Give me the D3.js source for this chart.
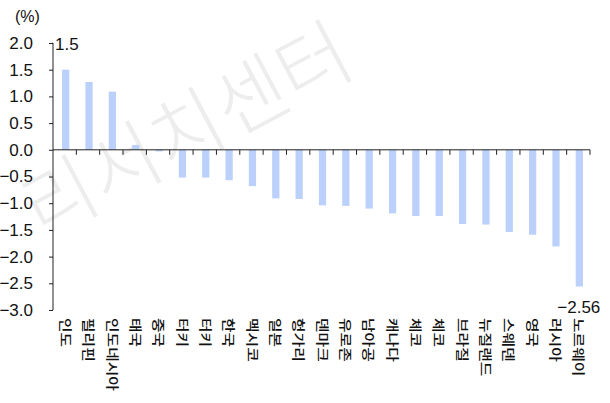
<!DOCTYPE html>
<html>
<head>
<meta charset="utf-8">
<script src="https://cdn.jsdelivr.net/npm/d3@7.9.0/dist/d3.min.js"></script>
<style>
  html, body { margin: 0; padding: 0; background: #fff; }
  svg { display: block; }
</style>
</head>
<body>
<div id="chart"></div>
<script>
// countries as printed in the source (duplicates kept as they appear)
const countries = ['인도', '필리핀', '인도네시아', '태국', '중국', '터키', '터키', '한국', '멕시코', '일본',
  '헝가리', '덴마크', '유로존', '남아공', '캐나다', '체코', '체코', '브라질', '뉴질랜드', '스웨덴',
  '영국', '러시아', '노르웨이'];
const values = [1.5, 1.27, 1.09, 0.09, -0.03, -0.52, -0.52, -0.57, -0.68, -0.91,
  -0.92, -1.04, -1.05, -1.10, -1.19, -1.24, -1.24, -1.39, -1.40, -1.54,
  -1.59, -1.81, -2.56];
const yTicks = [2.0, 1.5, 1.0, 0.5, 0.0, -0.5, -1.0, -1.5, -2.0, -2.5, -3.0];
const labelled = [0, 22]; // bars that carry a value label

const width = 610;
const height = 403;
const numFont = '"Liberation Sans", Arial, sans-serif';
const krFont = '"Noto Sans CJK KR", sans-serif';

const svg = d3.select('#chart')
  .append('svg')
  .attr('width', width)
  .attr('height', height);

// faint watermark
svg.append('text')
  .attr('transform', 'translate(184,125) rotate(-28)')
  .attr('text-anchor', 'middle')
  .attr('dominant-baseline', 'central')
  .attr('font-family', krFont)
  .attr('font-weight', 300)
  .attr('font-size', 78)
  .attr('fill', '#ededed')
  .text('리서치센터');

const x = d3.scaleBand()
  .domain(d3.range(countries.length))
  .range([53, 590])
  .padding(0);

const y = d3.scaleLinear().domain([-3, 2]).range([310, 43]);

const barW = x.bandwidth() * 0.31;

// bars
svg.append('g')
  .selectAll('rect')
  .data(values)
  .join('rect')
  .attr('x', (d, i) => x(i) + x.bandwidth() / 2 - barW / 2 + 1)
  .attr('y', (d) => y(Math.max(0, d)))
  .attr('width', barW)
  .attr('height', (d) => Math.abs(y(d) - y(0)))
  .attr('fill', '#bbd0fa');

// y axis
const yAxis = svg.append('g')
  .attr('transform', `translate(${x.range()[0]},0)`)
  .call(d3.axisLeft(y)
    .tickValues(yTicks)
    .tickSize(4)
    .tickPadding(16)
    .tickFormat(d3.format('.1f')));
yAxis.select('.domain').attr('d', `M-0.5,${y(2)}H0V${y(-3)}H-0.5`).attr('stroke', '#222');
yAxis.selectAll('.tick line').attr('stroke', '#222');
yAxis.selectAll('.tick text')
  .attr('font-family', numFont)
  .attr('font-size', 17)
  .attr('fill', '#111');

// zero line with category separators
const zero = svg.append('g');
zero.append('line')
  .attr('x1', x.range()[0])
  .attr('x2', x.range()[1])
  .attr('y1', y(0))
  .attr('y2', y(0))
  .attr('stroke', '#222');
zero.selectAll('line.sep')
  .data(d3.range(1, countries.length + 1))
  .join('line')
  .attr('class', 'sep')
  .attr('x1', (i) => (i < countries.length ? x(i) : x.range()[1]))
  .attr('x2', (i) => (i < countries.length ? x(i) : x.range()[1]))
  .attr('y1', y(0))
  .attr('y2', y(0) + 5)
  .attr('stroke', '#222');

// category labels, rotated, reading downwards
svg.append('g')
  .selectAll('text')
  .data(countries)
  .join('text')
  .attr('transform', (d, i) => `translate(${x(i) + x.bandwidth() / 2 + 2},318) rotate(90) scale(1.22,1)`)
  .attr('dominant-baseline', 'central')
  .attr('font-family', krFont)
  .attr('font-weight', 500)
  .attr('font-size', 13)
  .attr('fill', '#111')
  .text((d) => d);

// value labels
const fmtVal = (v) => String(v).replace('-', '−');
svg.append('text')
  .attr('x', x(labelled[0]) + 2)
  .attr('y', y(values[labelled[0]]) - 20)
  .attr('font-family', numFont)
  .attr('font-size', 17)
  .attr('fill', '#111')
  .text(fmtVal(values[labelled[0]]));
svg.append('text')
  .attr('x', x(labelled[1]) + x.bandwidth() / 2 + 22)
  .attr('y', y(values[labelled[1]]) + 26)
  .attr('text-anchor', 'end')
  .attr('font-family', numFont)
  .attr('font-size', 17)
  .attr('fill', '#111')
  .text(fmtVal(values[labelled[1]]));

// unit
svg.append('text')
  .attr('x', 15)
  .attr('y', 22)
  .attr('font-family', numFont)
  .attr('font-size', 16)
  .attr('fill', '#111')
  .text('(%)');
</script>
</body>
</html>
